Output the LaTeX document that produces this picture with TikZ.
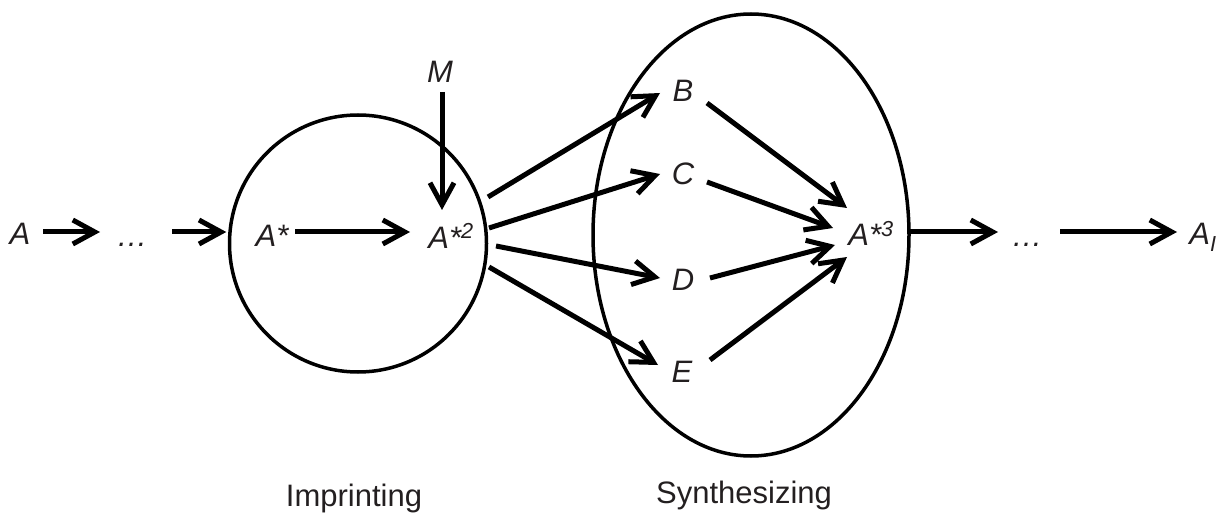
\documentclass[tikz,border=0pt]{standalone}
\usepackage{fontspec}
\setmainfont{Liberation Sans}
\usetikzlibrary{arrows.meta,shapes.geometric}
\definecolor{ink}{RGB}{35,31,32}
\tikzset{
  lbl/.style={font=\fontsize{31}{37}\selectfont\itshape, text=ink, inner sep=0pt,
              text height=22pt, text depth=0pt, anchor=center},
  captxt/.style={font=\fontsize{31}{37}\selectfont, text=ink, inner sep=0pt, anchor=base},
  arr/.style={line width=5pt, -{Straight Barb[length=22pt,width=24pt]}},
  ring/.style={draw, line width=3.5pt, inner sep=0pt}
}
\begin{document}
\begin{tikzpicture}[x=1pt,y=-1pt]
\useasboundingbox (0,0) rectangle (1221,513);
% containers
\node[ring, circle, minimum size=257pt] (imp) at (358,243.5) {};
\node[ring, ellipse, minimum width=316pt, minimum height=442pt] (syn) at (751,235) {};
% nodes
\node[lbl] (A) at (20,233) {A};
\node[lbl] (d1) at (132,236) {…};
\node[lbl] (As) at (272,236) {A*};
\node[lbl] (As2) at (451,237) {A*\textsuperscript{2}};
\node[lbl] (M) at (440,72) {M};
\node[lbl] (B) at (683,91) {B};
\node[lbl] (C) at (683,174) {C};
\node[lbl] (D) at (683,279) {D};
\node[lbl] (E) at (682,371) {E};
\node[lbl] (As3) at (871,235) {A*\textsuperscript{3}};
\node[lbl] (d2) at (1027,236) {…};
\node[lbl] (AI) at (1203,234) {A\textsubscript{I}};
\node[captxt] (limp) at (354,506) {Imprinting};
\node[captxt] (lsyn) at (744,503) {Synthesizing};
% connectors
\draw[arr] ([shift={(23,-1)}]A.center) -- ([shift={(-32,-4)}]d1.center);
\draw[arr] ([shift={(40,-4)}]d1.center) -- ([shift={(-1.5,-11.5)}]imp.west);
\draw[arr] ([shift={(23,-4)}]As.center) -- ([shift={(-41,-5)}]As2.center);
\draw[arr] ([shift={(2,20)}]M.center) -- ([shift={(-9,-27)}]As2.center);
\draw[arr] ([shift={(37,-40)}]As2.center) -- ([shift={(-23,2)}]B.center);
\draw[arr] ([shift={(38,-9)}]As2.center) -- ([shift={(-23,0)}]C.center);
\draw[arr] ([shift={(45,9)}]As2.center) -- ([shift={(-23,-1)}]D.center);
\draw[arr] ([shift={(38,30)}]As2.center) -- ([shift={(-24,-6)}]E.center);
\draw[arr] ([shift={(24,12)}]B.center) -- ([shift={(-24,-27)}]As3.center);
\draw[arr] ([shift={(24,8)}]C.center) -- ([shift={(-38,-7)}]As3.center);
\draw[arr] ([shift={(27,-1)}]D.center) -- ([shift={(-36,10)}]As3.center);
\draw[arr] ([shift={(28,-11)}]E.center) -- ([shift={(-24,22)}]As3.center);
\draw[arr] ([shift={(-1,-3)}]syn.east) -- ([shift={(-29,-4)}]d2.center);
\draw[arr] ([shift={(33,-4)}]d2.center) -- ([shift={(-26,-2)}]AI.center);
\end{tikzpicture}
\end{document}
